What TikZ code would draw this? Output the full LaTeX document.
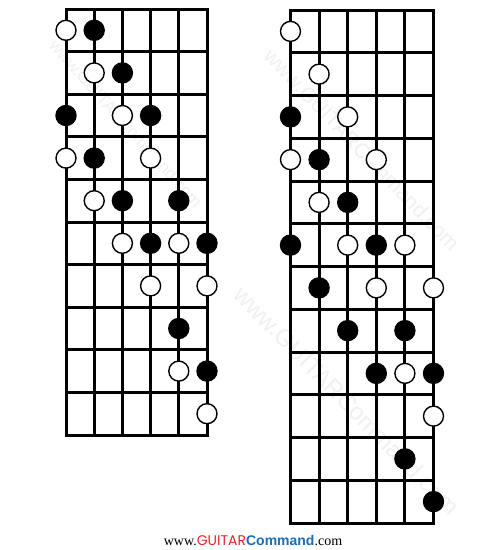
\documentclass[tikz,border=0pt]{standalone}
\usepackage{fontspec}
\setmainfont{Liberation Serif}
\newfontfamily\gsans{Poppins}
\newfontfamily\csans{Liberation Sans}
\definecolor{gred}{HTML}{E0262B}
\definecolor{gblue}{HTML}{1C6DB8}
\begin{document}
\begin{tikzpicture}[x=1pt,y=-1pt,
  gridline/.style={line width=3pt,line cap=rect},
  od/.style={circle,draw=black,fill=white,line width=1.4pt,minimum size=20pt,inner sep=0pt},
  fd/.style={circle,draw=black,fill=black,line width=1.4pt,minimum size=20pt,inner sep=0pt},
  wmark/.style={text=black!6,inner sep=0pt}]
\useasboundingbox (0,0) rectangle (500,550);
% watermarks
\node[wmark,rotate=-48,font=\csans\fontsize{17}{17}\selectfont] (wm1) at (126,124) {www.GUITARCommand.com};
\node[wmark,rotate=-46,font=\csans\fontsize{21}{21}\selectfont] (wm2) at (362,150) {www.GUITARCommand.com};
\node[wmark,rotate=-45.5,font=\csans\fontsize{24}{24}\selectfont] (wm3) at (347,401) {www.GUITARCommand.com};
% left board
\foreach \i in {0,...,5} \draw[gridline] ({66+28.2*\i},9) -- ({66+28.2*\i},435);
\foreach \j in {0,...,10} \draw[gridline] (66,{9+42.6*\j}) -- (207,{9+42.6*\j});
% right board
\foreach \i in {0,...,5} \draw[gridline] ({290.5+28.6*\i},10) -- ({290.5+28.6*\i},523);
\foreach \j in {0,...,12} \draw[gridline] (290.5,{10+42.75*\j}) -- (433.5,{10+42.75*\j});
% left dots: string/row/style
\foreach \s/\r/\t in {1/1/od,2/1/fd,2/2/od,3/2/fd,1/3/fd,3/3/od,4/3/fd,
  1/4/od,2/4/fd,4/4/od,2/5/od,3/5/fd,5/5/fd,3/6/od,4/6/fd,5/6/od,6/6/fd,
  4/7/od,6/7/od,5/8/fd,5/9/od,6/9/fd,6/10/od}
  \node[\t] (L\s-\r) at ({66+28.2*(\s-1)},{9+42.6*(\r-0.5)}) {};
% right dots
\foreach \s/\r/\t in {1/1/od,2/2/od,1/3/fd,3/3/od,1/4/od,2/4/fd,4/4/od,
  2/5/od,3/5/fd,1/6/fd,3/6/od,4/6/fd,5/6/od,2/7/fd,4/7/od,6/7/od,
  3/8/fd,5/8/fd,4/9/fd,5/9/od,6/9/fd,6/10/od,5/11/fd,6/12/fd}
  \node[\t] (R\s-\r) at ({290.5+28.6*(\s-1)},{10+42.75*(\r-0.5)}) {};
% footer
\node[inner sep=0pt,anchor=base] (site) at (253,545)
  {\fontsize{14}{14}\selectfont www.{\gsans\color{gred}GUITAR}{\csans\bfseries\color{gblue}Command}.com};
\end{tikzpicture}
\end{document}
